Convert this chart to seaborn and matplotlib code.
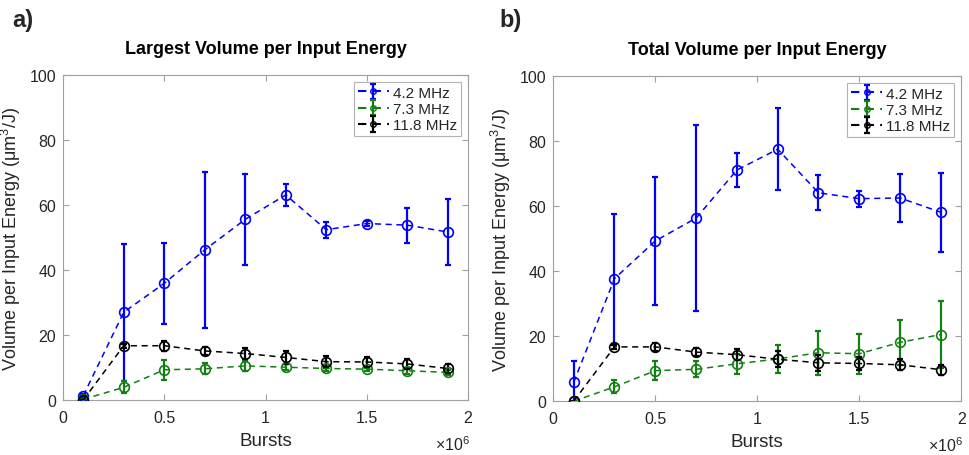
import numpy as np
import pandas as pd
import matplotlib
matplotlib.use("Agg")
import matplotlib.pyplot as plt
import matplotlib.ticker as mticker
import seaborn as sns

bursts = [1e5, 3e5, 5e5, 7e5, 9e5, 1.1e6, 1.3e6, 1.5e6, 1.7e6, 1.9e6]
series_labels = ["4.2 MHz", "7.3 MHz", "11.8 MHz"]
x_ticks = [0, 0.5e6, 1e6, 1.5e6, 2e6]
y_ticks = [0, 20, 40, 60, 80, 100]

# Panel a) Largest volume per input energy
largest_42 = [1.3, 27.0, 35.9, 46.2, 55.6, 63.1, 52.4, 54.3, 53.8, 51.7]
largest_42_err = [0.5, 21.0, 12.5, 24.0, 14.0, 3.3, 2.5, 0.8, 5.4, 10.2]
largest_73 = [0.2, 3.9, 9.3, 9.6, 10.5, 10.1, 9.7, 9.5, 9.0, 8.5]
largest_73_err = [0.2, 1.8, 3.0, 1.7, 1.5, 1.0, 0.8, 0.5, 1.0, 0.8]
largest_118 = [0.0, 16.7, 16.7, 15.1, 14.3, 13.1, 11.8, 11.7, 11.1, 9.7]
largest_118_err = [0.1, 0.6, 1.6, 1.3, 1.6, 2.1, 1.8, 1.5, 1.5, 1.4]

# Panel b) Total volume per input energy
total_42 = [5.8, 37.7, 49.3, 56.3, 71.1, 77.5, 64.1, 62.3, 62.5, 58.1]
total_42_err = [6.5, 20.0, 19.7, 28.6, 5.3, 12.6, 5.4, 2.5, 7.3, 12.2]
total_73 = [0.0, 4.4, 9.4, 9.8, 11.5, 13.0, 14.9, 14.6, 18.1, 20.5]
total_73_err = [0.1, 2.0, 3.0, 2.5, 3.0, 4.3, 6.8, 6.2, 6.9, 10.2]
total_118 = [0.0, 16.7, 16.7, 15.1, 14.3, 12.9, 11.8, 11.6, 11.2, 9.7]
total_118_err = [0.1, 0.6, 1.3, 1.3, 1.6, 2.5, 2.5, 2.0, 1.7, 1.5]

colors = ["#0000ff", "#128012", "#000000"]

sns.set_theme(style="white")
plt.rcParams["font.family"] = ["Liberation Sans", "DejaVu Sans"]
plt.rcParams["mathtext.fontset"] = "custom"
plt.rcParams["mathtext.rm"] = "Liberation Sans"

fig = plt.figure(figsize=(9.69, 4.56), dpi=100)
ax1 = fig.add_axes([0.065, 0.1206, 0.418, 0.7127])
ax2 = fig.add_axes([0.571, 0.1180, 0.421, 0.7130])

panels = [
    (ax1, "Largest Volume per Input Energy",
     [(largest_42, largest_42_err), (largest_73, largest_73_err), (largest_118, largest_118_err)]),
    (ax2, "Total Volume per Input Energy",
     [(total_42, total_42_err), (total_73, total_73_err), (total_118, total_118_err)]),
]

tick_col = "#262626"
spine_col = "#a0a0a0"

for ax, title, data in panels:
    for (vals, errs), col, lab in zip(data, colors, series_labels):
        df = pd.DataFrame({"Bursts": bursts, "val": vals})
        sns.lineplot(data=df, x="Bursts", y="val", ax=ax, color=col,
                     linestyle=(0, (4, 3)), linewidth=1.1, marker="o",
                     markersize=7, markerfacecolor="none", markeredgecolor=col,
                     markeredgewidth=1.2, legend=False, zorder=3)
        ax.errorbar(bursts, vals, yerr=errs, fmt="none", ecolor=col,
                    elinewidth=1.6, capsize=2.5, capthick=1.6, zorder=2)
        # legend proxy
        ax.errorbar([np.nan], [np.nan], yerr=[1], fmt="o", linestyle=(0, (4, 3)),
                    color=col, markersize=4, markerfacecolor="none",
                    elinewidth=1.6, capsize=2.5, capthick=1.6, label=lab)
    ax.set_xlim(0, 2e6)
    ax.set_ylim(0, 100)
    ax.set_xticks(x_ticks)
    ax.set_yticks(y_ticks)
    ax.xaxis.set_major_formatter(mticker.FuncFormatter(lambda v, p: f"{v/1e6:g}"))
    ax.text(1.004, -0.135, r"$\times10^{6}$", transform=ax.transAxes,
            ha="right", va="center", fontsize=11.5, color=tick_col)
    ax.set_xlabel("Bursts", fontsize=13.5, color=tick_col)
    ax.xaxis.set_label_coords(0.5, -0.098)
    ax.set_ylabel("Volume per Input Energy (μm$^3$/J)", fontsize=13, color=tick_col)
    ax.yaxis.set_label_coords(-0.098, 0.5)
    ax.set_title(title, fontsize=13, fontweight="bold", pad=16, color="black")
    ax.tick_params(axis="both", direction="in", length=4, width=0.8, colors=spine_col,
                   labelcolor=tick_col, labelsize=11.5, top=True, right=True,
                   bottom=True, left=True)
    ax.tick_params(axis="x", pad=7)
    ax.tick_params(axis="y", pad=5)
    for s in ax.spines.values():
        s.set_color(spine_col)
        s.set_linewidth(0.8)
    leg = ax.legend(loc="upper right", fontsize=11, frameon=True, fancybox=False,
                    edgecolor="#a0a0a0", handlelength=2.0, handletextpad=0.3,
                    borderpad=0.25, labelspacing=0.15, borderaxespad=0.45)
    leg.get_frame().set_linewidth(0.8)
    for t in leg.get_texts():
        t.set_color(tick_col)

fig.text(0.0124, 0.954, "a)", fontsize=17, fontweight="bold", ha="left", va="center")
fig.text(0.515, 0.954, "b)", fontsize=17, fontweight="bold", ha="left", va="center")

fig.savefig("out.png", dpi=100)
